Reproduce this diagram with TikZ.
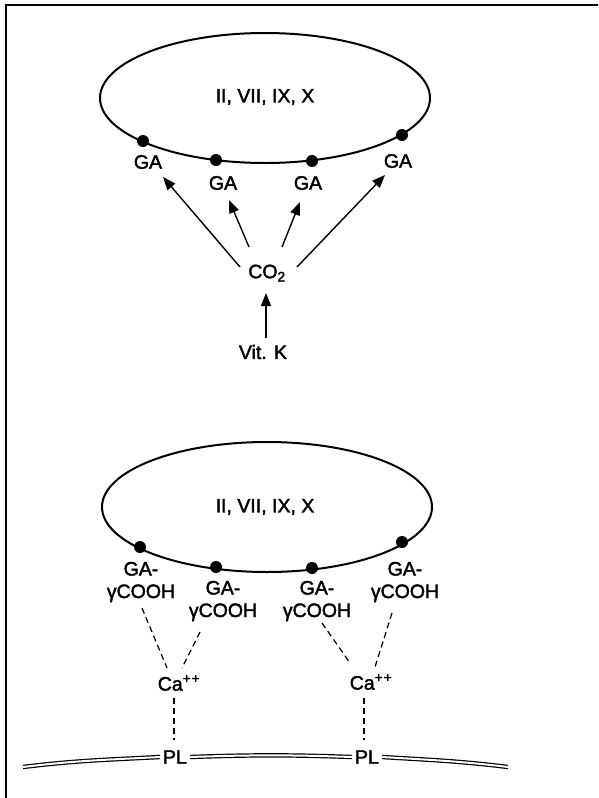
\documentclass[tikz,border=0pt]{standalone}
\usepackage{fontspec}
\setmainfont{Liberation Sans}
\newfontfamily\lblfont{Liberation Sans}[FakeBold=2]
\usetikzlibrary{arrows.meta}
\begin{document}
\begin{tikzpicture}[x=1pt,y=-1pt,
  lbl/.style={inner sep=1pt,font=\lblfont\fontsize{19.5}{22.5}\selectfont},
  arr/.style={line width=1.4pt,-{Triangle[length=13pt,width=10pt]}},
  dsh/.style={line width=1.2pt,dash pattern=on 6pt off 4pt},
  dot/.style={circle,fill=black,inner sep=0pt,minimum size=12pt},
  memb/.style={double,double distance=2pt,line width=1.2pt}]
\useasboundingbox (0,0) rectangle (598,798);
\draw[line width=2pt] (5.5,798) -- (5.5,5) -- (598,5);
% ---------- top ----------
\draw[line width=2pt] (265,98) ellipse [x radius=165, y radius=65];
\node[lbl] (t1) at (265,97) {II, VII, IX, X};
\node[dot] (p1) at (143,141) {};
\node[dot] (p2) at (216,160) {};
\node[dot] (p3) at (312,161) {};
\node[dot] (p4) at (402,135) {};
\node[lbl] (ga1) at (148,162) {GA};
\node[lbl] (ga2) at (223,183) {GA};
\node[lbl] (ga3) at (308,183) {GA};
\node[lbl] (ga4) at (398,161) {GA};
\node[lbl] (co2) at (267,273) {CO\textsubscript{2}};
\node[lbl] (vk) at (263,352) {Vit. K};
\draw[arr] ([shift={(-27,-6)}]co2.center) -- ([shift={(15,15)}]ga1.center);
\draw[arr] ([shift={(-18,-26)}]co2.center) -- ([shift={(6,17)}]ga2.center);
\draw[arr] ([shift={(15,-26)}]co2.center) -- ([shift={(-8,19)}]ga3.center);
\draw[arr] ([shift={(30,-6)}]co2.center) -- ([shift={(-13,14)}]ga4.center);
\draw[arr] ([shift={(3,-14)}]vk.center) -- ([shift={(-1,20)}]co2.center);
% ---------- bottom ----------
\draw[line width=2pt] (267,507) ellipse [x radius=165, y radius=65];
\node[lbl] (t2) at (265,507) {II, VII, IX, X};
\node[dot] (q1) at (140,547) {};
\node[dot] (q2) at (216,567) {};
\node[dot] (q3) at (312,568) {};
\node[dot] (q4) at (402,542) {};
\node[lbl,align=center] (g1) at (141,582) {GA-\\γCOOH};
\node[lbl,align=center] (g2) at (223,601) {GA-\\γCOOH};
\node[lbl,align=center] (g3) at (317,601) {GA-\\γCOOH};
\node[lbl,align=center] (g4) at (405,582) {GA-\\γCOOH};
\node[lbl] (ca1) at (179,683) {Ca\textsuperscript{+\kern1pt+}};
\node[lbl] (ca2) at (371,682) {Ca\textsuperscript{+\kern1pt+}};
\node[lbl,inner sep=3pt] (pl1) at (175,757) {PL};
\node[lbl,inner sep=3pt] (pl2) at (367,757) {PL};
\draw[dsh] ([shift={(1,26)}]g1.center) -- ([shift={(-12,-15)}]ca1.center);
\draw[dsh] ([shift={(-23,31)}]g2.center) -- ([shift={(3,-15)}]ca1.center);
\draw[dsh] ([shift={(5,22)}]g3.center) -- ([shift={(-21,-19)}]ca2.center);
\draw[dsh] ([shift={(-13,31)}]g4.center) -- ([shift={(4,-15)}]ca2.center);
\draw[dsh] ([shift={(-5,15)}]ca1.center) -- ([shift={(-1,-17)}]pl1.center);
\draw[dsh] ([shift={(-7,16)}]ca2.center) -- ([shift={(-3,-17)}]pl2.center);
% membrane
\coordinate (mL) at (23,767);
\coordinate (mR) at (508,767);
\draw[memb] (mL) to[out=7,in=183] (pl1.west);
\draw[memb] (pl1.east) to[out=2,in=178] (pl2.west);
\draw[memb] (pl2.east) to[out=-3.5,in=173] (mR);
\end{tikzpicture}
\end{document}
